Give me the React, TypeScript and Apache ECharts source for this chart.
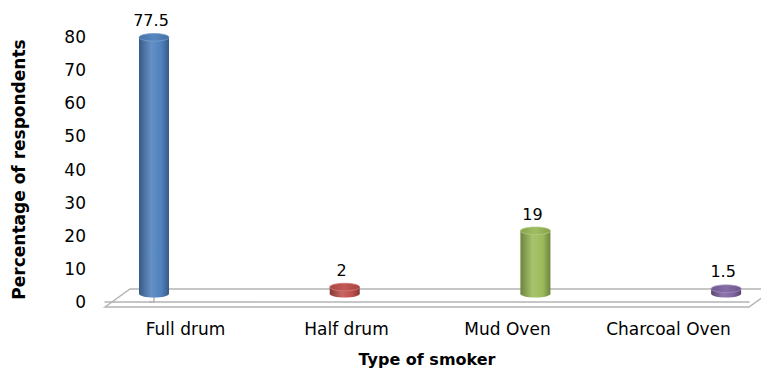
import React, { useEffect, useRef } from "react";
import * as echarts from "echarts";

// Smoker types and the share of respondents using each one (%)
const categories = ["Full drum", "Half drum", "Mud Oven", "Charcoal Oven"];
const values = [77.5, 2, 19, 1.5];
const barColors = ["#4f81bd", "#c0504d", "#9bbb59", "#8064a2"];

// Percentage axis
const yMin = 0;
const yMax = 80;
const yStep = 10;

const W = 761;
const H = 372;
const GRID = { left: 105, right: 12, top: 37, bottom: 65 };
// floor depth of the pseudo-3D platform
const DEPTH_X = 25;
const DEPTH_Y = 18;

const AXIS_GREY = "#b4b4b4";
const FONT = "DejaVu Sans";

function shade(hex: string, amt: number): string {
  const n = parseInt(hex.slice(1), 16);
  let r = (n >> 16) & 255;
  let g = (n >> 8) & 255;
  let b = n & 255;
  const t = amt < 0 ? 0 : 255;
  const p = Math.abs(amt);
  r = Math.round((t - r) * p + r);
  g = Math.round((t - g) * p + g);
  b = Math.round((t - b) * p + b);
  return `rgb(${r},${g},${b})`;
}

export default function App() {
  const ref = useRef<HTMLDivElement>(null);

  useEffect(() => {
    if (!ref.current) return;
    const chart = echarts.init(ref.current, null, { renderer: "svg" });

    const L = GRID.left;
    const R = W - GRID.right;
    const B = H - GRID.bottom;

    const option: any = {
      animation: false,
      backgroundColor: "#ffffff",
      grid: { ...GRID, containLabel: false },
      graphic: [
        {
          type: "polygon",
          z: 0,
          silent: true,
          shape: {
            points: [
              [L, B],
              [L + DEPTH_X, B - DEPTH_Y],
              [R + DEPTH_X, B - DEPTH_Y],
              [R, B],
            ],
          },
          style: { fill: "#ffffff", stroke: AXIS_GREY, lineWidth: 1.5 },
        },
      ],
      xAxis: [
        {
          type: "category",
          data: categories,
          boundaryGap: true,
          axisLine: { lineStyle: { color: AXIS_GREY, width: 1.5 } },
          axisTick: { interval: 0, length: 5, lineStyle: { color: AXIS_GREY, width: 1.5 } },
          axisLabel: {
            interval: 0,
            hideOverlap: false,
            margin: 18,
            color: "#000",
            fontFamily: FONT,
            fontSize: 17,
          },
          name: "Type of smoker",
          nameLocation: "middle",
          nameGap: 57,
          nameTextStyle: {
            color: "#000",
            fontFamily: FONT,
            fontWeight: "bold",
            fontSize: 16,
            verticalAlign: "middle",
          },
          z: 1,
        },
        {
          // positions of the cylinders on the floor
          type: "value",
          show: false,
          min: -0.257,
          max: 3.12,
        },
      ],
      yAxis: [
        {
          type: "value",
          min: yMin,
          max: yMax,
          interval: yStep,
          axisLine: { show: true, lineStyle: { color: AXIS_GREY, width: 1.5 } },
          axisTick: { show: true, length: 5, lineStyle: { color: AXIS_GREY, width: 1.5 } },
          splitLine: { show: false },
          axisLabel: { margin: 19, color: "#000", fontFamily: FONT, fontSize: 17 },
          name: "Percentage of respondents",
          nameLocation: "middle",
          nameRotate: 90,
          nameGap: 86,
          nameTextStyle: {
            color: "#000",
            fontFamily: FONT,
            fontWeight: "bold",
            fontSize: 17,
            verticalAlign: "middle",
          },
          z: 1,
        },
        {
          // height scale of the cylinders (their base sits mid-floor)
          type: "value",
          show: false,
          min: -2.52,
          max: 77.6,
        },
      ],
      series: [
        {
          type: "custom",
          xAxisIndex: 1,
          yAxisIndex: 1,
          z: 5,
          data: values.map((v, i) => [i, v]),
          encode: { x: 0, y: 1 },
          renderItem: (params: any, api: any) => {
            const i = api.value(0);
            const v = api.value(1);
            const top = api.coord([i, v]);
            const base = api.coord([i, 0]);
            const cx = top[0];
            const rx = 15;
            const ry = 3.8;
            const c = barColors[i];
            const body = new echarts.graphic.LinearGradient(0, 0, 1, 0, [
              { offset: 0, color: shade(c, -0.3) },
              { offset: 0.4, color: shade(c, 0.12) },
              { offset: 0.75, color: c },
              { offset: 1, color: shade(c, -0.3) },
            ]);
            const cap = new echarts.graphic.LinearGradient(0, 0, 1, 0, [
              { offset: 0, color: shade(c, -0.12) },
              { offset: 0.5, color: shade(c, 0.05) },
              { offset: 1, color: shade(c, -0.15) },
            ]);
            return {
              type: "group",
              children: [
                {
                  type: "ellipse",
                  shape: { cx, cy: base[1], rx, ry },
                  style: { fill: body },
                },
                {
                  type: "rect",
                  shape: { x: cx - rx, y: top[1], width: rx * 2, height: base[1] - top[1] },
                  style: { fill: body },
                },
                {
                  type: "ellipse",
                  shape: { cx, cy: top[1], rx, ry },
                  style: { fill: cap, stroke: shade(c, 0.25), lineWidth: 0.8 },
                },
                {
                  type: "text",
                  style: {
                    text: String(v),
                    x: cx - 3,
                    y: top[1] - ry - 5,
                    textAlign: "center",
                    textVerticalAlign: "bottom",
                    fill: "#000",
                    font: `16px "${FONT}"`,
                  },
                },
              ],
            };
          },
        },
      ],
    };

    chart.setOption(option);
    return () => chart.dispose();
  }, []);

  return (
    <div
      ref={ref}
      style={{ position: "fixed", left: 0, top: 0, width: W, height: H, background: "#fff" }}
    />
  );
}
